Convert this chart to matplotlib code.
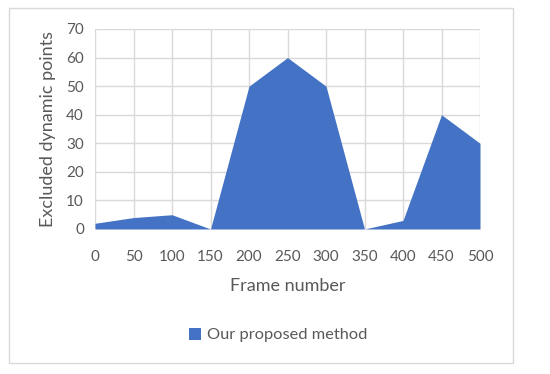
import matplotlib
matplotlib.use("Agg")
import matplotlib.pyplot as plt
from matplotlib.patches import Rectangle

frames = [0, 50, 100, 150, 200, 250, 300, 350, 400, 450, 500]
points = [2, 4, 5, 0, 50, 60, 50, 0, 3, 40, 30]
series_name = "Our proposed method"

plt.rcParams['font.family'] = ['Lato', 'DejaVu Sans']
text_color = '#595959'
grid_color = '#D9D9D9'
fill_color = '#4472C4'

fig = plt.figure(figsize=(5.5, 3.74), dpi=100)
ax = fig.add_axes([95/550, 1 - 229/374, (480-95)/550, (229-29)/374])

ax.fill_between(frames, points, 0, color=fill_color, linewidth=0, label=series_name, zorder=3)
ax.set_xlim(0, 500)
ax.set_ylim(0, 70)
ax.set_xticks(frames)
ax.set_yticks(range(0, 71, 10))
ax.grid(True, color=grid_color, linewidth=1, zorder=0)
for s in ax.spines.values():
    s.set_visible(False)
ax.tick_params(length=0, colors=text_color, labelsize=11)
ax.tick_params(axis='x', pad=15)
ax.tick_params(axis='y', pad=8)
ax.set_xlabel("Frame number", color=text_color, fontsize=13, labelpad=10)
ax.set_ylabel("Excluded dynamic points", color=text_color, fontsize=13, labelpad=7)

leg = fig.legend(loc='center', bbox_to_anchor=(278/550, 1 - 335/374), frameon=False,
                 fontsize=11.8, handlelength=0.75, handleheight=0.75, handletextpad=0.35)
for t in leg.get_texts():
    t.set_color(text_color)

fig.patches.append(Rectangle((9/550, 1 - 363/374), (513-9)/550, (363-8)/374,
                             transform=fig.transFigure, fill=False, edgecolor=grid_color, linewidth=1))

fig.savefig("out.png", dpi=100, facecolor='white')
